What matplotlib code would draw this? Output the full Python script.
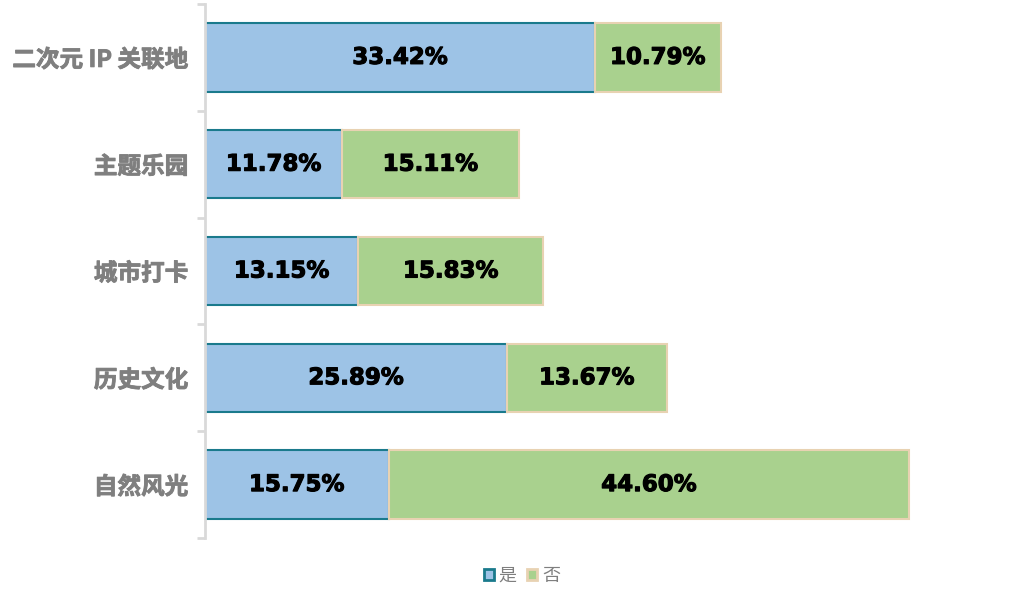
import matplotlib
matplotlib.use("Agg")
import matplotlib.pyplot as plt
from matplotlib.patches import Patch
import matplotlib.patheffects as pe

plt.rcParams['font.family'] = ['Noto Sans CJK SC', 'DejaVu Sans']

categories = ["二次元 IP 关联地", "主题乐园", "城市打卡", "历史文化", "自然风光"]
yes_vals = [33.42, 11.78, 13.15, 25.89, 15.75]
no_vals = [10.79, 15.11, 15.83, 13.67, 44.60]
series_names = ["是", "否"]

blue_fill, blue_edge = "#9DC3E6", "#1A7A8C"
green_fill, green_edge = "#A9D18E", "#E8D2B2"

W, H = 1021, 591
fig = plt.figure(figsize=(W / 100, H / 100), dpi=100)
ax = fig.add_axes([205 / W, 1 - 538 / H, (1010 - 205) / W, (538 - 4) / H])

ypos = list(range(len(categories)))
ax.barh(ypos, yes_vals, height=0.64, color=blue_fill, edgecolor=blue_edge, linewidth=1.5, zorder=2)
ax.barh(ypos, no_vals, left=yes_vals, height=0.64, color=green_fill, edgecolor=green_edge, linewidth=1.5, zorder=3)

heavy = [pe.withStroke(linewidth=0.8, foreground="black")]
for y, a, b in zip(ypos, yes_vals, no_vals):
    ax.text(a / 2, y, f"{a:.2f}%", ha="center", va="center", fontsize=16.5,
            fontweight="bold", family="DejaVu Sans", color="black", zorder=4,
            path_effects=heavy)
    ax.text(a + b / 2, y, f"{b:.2f}%", ha="center", va="center", fontsize=16.5,
            fontweight="bold", family="DejaVu Sans", color="black", zorder=4,
            path_effects=heavy)

ax.set_xlim(0, 69)
ax.set_ylim(len(categories) - 0.5, -0.5)
ax.set_yticks(ypos)
ax.set_yticklabels(categories, fontsize=17, fontweight="bold", color="#7F7F7F")
for t in ax.get_yticklabels():
    t.set_path_effects([pe.withStroke(linewidth=0.6, foreground="#7F7F7F")])
ax.set_yticks([i - 0.5 for i in range(len(categories) + 1)], minor=True)
ax.tick_params(axis="y", which="major", length=0, pad=12)
ax.tick_params(axis="y", which="minor", length=6, width=2, color="#D9D9D9", direction="out")
ax.set_xticks([])
for s in ["top", "right", "bottom"]:
    ax.spines[s].set_visible(False)
ax.spines["left"].set_color("#D9D9D9")
ax.spines["left"].set_linewidth(2)
ax.spines["left"].set_zorder(5)

handles = [Patch(facecolor=blue_fill, edgecolor=blue_edge, linewidth=2),
           Patch(facecolor=green_fill, edgecolor=green_edge, linewidth=2)]
fig.legend(handles, series_names, loc="center", bbox_to_anchor=(522 / W, 1 - 576 / H),
           ncol=2, frameon=False, handlelength=0.55, handleheight=0.55, handletextpad=0.25,
           columnspacing=0.6, prop={"size": 13, "family": ["Noto Sans CJK SC"]},
           labelcolor="#7F7F7F")

fig.savefig("out.png", dpi=100)
